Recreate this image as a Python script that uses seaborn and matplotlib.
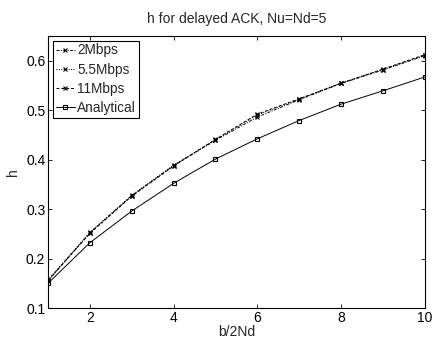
import matplotlib
matplotlib.use("Agg")
import matplotlib.pyplot as plt
import seaborn as sns
import pandas as pd

x_vals = [1, 2, 3, 4, 5, 6, 7, 8, 9, 10]
h_2mbps = [0.155, 0.252, 0.327, 0.388, 0.439, 0.486, 0.521, 0.554, 0.581, 0.610]
h_55mbps = [0.157, 0.253, 0.328, 0.389, 0.440, 0.490, 0.522, 0.555, 0.582, 0.611]
h_11mbps = [0.156, 0.251, 0.326, 0.387, 0.441, 0.492, 0.523, 0.554, 0.583, 0.612]
h_analytical = [0.150, 0.232, 0.296, 0.352, 0.401, 0.442, 0.479, 0.512, 0.539, 0.567]
series_names = ["2Mbps", "5.5Mbps", "11Mbps", "Analytical"]
x_ticks = [2, 4, 6, 8, 10]
y_ticks = [0.1, 0.2, 0.3, 0.4, 0.5, 0.6]

sns.set_style("white")
plt.rcParams['font.family'] = ['Liberation Sans', 'DejaVu Sans']
plt.rcParams['font.size'] = 10

frames = []
for name, vals in zip(series_names, [h_2mbps, h_55mbps, h_11mbps, h_analytical]):
    frames.append(pd.DataFrame({"x": x_vals, "h": vals, "series": name}))
df = pd.concat(frames, ignore_index=True)

fig = plt.figure(figsize=(4.33, 3.42), dpi=100)
ax = fig.add_axes([0.111, 0.0994, 0.870, 0.7956])

styles = {
    "2Mbps": dict(linestyle=(0, (3, 1.5, 1, 1.5)), marker="x"),
    "5.5Mbps": dict(linestyle=(0, (1, 1.5)), marker="x"),
    "11Mbps": dict(linestyle=(0, (3, 2)), marker="x"),
    "Analytical": dict(linestyle="-", marker="s"),
}
for name in series_names:
    sub = df[df["series"] == name]
    st = styles[name]
    sns.lineplot(data=sub, x="x", y="h", ax=ax, color="black", linewidth=0.7,
                 linestyle=st["linestyle"], marker=st["marker"], markersize=3.5,
                 markerfacecolor="none" if st["marker"] == "s" else "black",
                 markeredgecolor="black", markeredgewidth=0.8, label=name)

ax.set_xlim(1, 10)
ax.set_ylim(0.1, 0.65)
ax.set_xticks(x_ticks)
ax.set_yticks(y_ticks)
ax.set_xticklabels([str(t) for t in x_ticks])
ax.set_yticklabels([f"{t:.1f}" for t in y_ticks])
ax.tick_params(direction="in", length=3, width=0.6, top=True, right=True,
               bottom=True, left=True, labelsize=10, pad=2, colors="black")
for s in ax.spines.values():
    s.set_visible(True)
    s.set_color("black")
    s.set_linewidth(0.8)
ax.set_xlabel("b/2Nd", fontsize=10, labelpad=0)
ax.set_ylabel("h", fontsize=10, labelpad=4)
ax.set_title("h for delayed ACK, Nu=Nd=5", fontsize=10, pad=9)

leg = ax.legend(loc="upper left", fontsize=9.8, frameon=True, fancybox=False,
                edgecolor="black", framealpha=1, borderpad=0.2, labelspacing=0.38,
                handlelength=1.4, handletextpad=0.2, borderaxespad=0.35)
leg.get_frame().set_linewidth(0.8)

fig.savefig("out.png", dpi=100)
